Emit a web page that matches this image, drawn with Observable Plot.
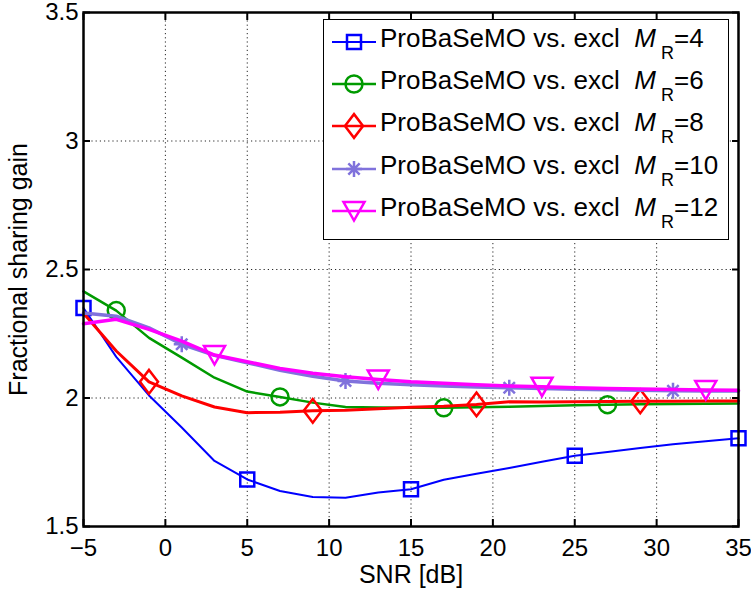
<!DOCTYPE html>
<html>
<head>
<meta charset="utf-8">
<script src="https://cdn.jsdelivr.net/npm/d3@7"></script>
<script src="https://cdn.jsdelivr.net/npm/@observablehq/plot@0.6"></script>
<style>
  html, body { margin: 0; padding: 0; background: #fff; }
  #wrap { position: relative; width: 751px; height: 590px; font-family: "Liberation Sans", Arial, sans-serif; }
  #legend { position: absolute; left: 323px; top: 19px; width: 404px; height: 219px; border: 1px solid #000; background: #fff; }
  .row { position: absolute; left: 0; height: 42px; width: 100%; }
  .row svg { position: absolute; left: 7px; top: 0; }
  .row .txt { position: absolute; left: 56px; top: -1px; font-size: 26px; white-space: pre; color: #000; line-height: 30px; }
  .row .sub { position: relative; top: 12px; font-size: 18px; margin-left: 5px; }
</style>
</head>
<body>
<div id="wrap"></div>
<script>
// ---- data ----
const snr = [-5, -3, -1, 1, 3, 5, 7, 9, 11, 13, 15, 17, 19, 21, 23, 25, 27, 29, 31, 33, 35];
const gainM4  = [2.35, 2.16, 2.01, 1.885, 1.755, 1.683, 1.638, 1.615, 1.612, 1.632, 1.645, 1.682, 1.705, 1.728, 1.752, 1.775, 1.790, 1.805, 1.820, 1.832, 1.843];
const gainM6  = [2.415, 2.34, 2.234, 2.157, 2.079, 2.025, 2.004, 1.982, 1.965, 1.963, 1.962, 1.962, 1.964, 1.966, 1.969, 1.972, 1.974, 1.976, 1.977, 1.978, 1.979];
const gainM8  = [2.33, 2.183, 2.063, 2.008, 1.965, 1.943, 1.945, 1.950, 1.952, 1.958, 1.964, 1.968, 1.975, 1.985, 1.984, 1.985, 1.986, 1.987, 1.987, 1.988, 1.988];
const gainM10 = [2.331, 2.318, 2.273, 2.209, 2.166, 2.137, 2.108, 2.085, 2.066, 2.057, 2.052, 2.047, 2.043, 2.040, 2.037, 2.034, 2.032, 2.030, 2.028, 2.027, 2.027];
const gainM12 = [2.289, 2.306, 2.267, 2.221, 2.167, 2.141, 2.115, 2.096, 2.083, 2.072, 2.063, 2.057, 2.052, 2.047, 2.044, 2.040, 2.037, 2.035, 2.033, 2.031, 2.030];
const mrValues = [4, 6, 8, 10, 12];
const legendText = "ProBaSeMO vs. excl";
const xTicks = [-5, 0, 5, 10, 15, 20, 25, 30, 35];
const yTicks = [1.5, 2, 2.5, 3, 3.5];
const xLabel = "SNR [dB]";
const yLabel = "Fractional sharing gain";

// ---- symbols ----
const rOf = (size) => Math.sqrt(size / Math.PI);
const symSquare = {draw(c, s) { const r = rOf(s); c.rect(-r, -r, 2 * r, 2 * r); }};
const symCircle = {draw(c, s) { const r = rOf(s); c.moveTo(r, 0); c.arc(0, 0, r, 0, 2 * Math.PI); }};
const symDiamond = {draw(c, s) { const r = rOf(s); c.moveTo(0, -1.25 * r); c.lineTo(0.95 * r, 0); c.lineTo(0, 1.25 * r); c.lineTo(-0.95 * r, 0); c.closePath(); }};
const symAsterisk = {draw(c, s) { const r = rOf(s); for (const a of [0, 45, 90, 135]) { const t = a * Math.PI / 180; c.moveTo(r * Math.cos(t), r * Math.sin(t)); c.lineTo(-r * Math.cos(t), -r * Math.sin(t)); } }};
const symTriDown = {draw(c, s) { const r = rOf(s); c.moveTo(-1.05 * r, -0.9 * r); c.lineTo(1.05 * r, -0.9 * r); c.lineTo(0, 0.95 * r); c.closePath(); }};

const series = [
  {values: gainM4,  color: "#0000ff", symbol: symSquare,   r: 7,   width: 2,   offset: 0},
  {values: gainM6,  color: "#009a00", symbol: symCircle,   r: 8.5, width: 2.5, offset: 1},
  {values: gainM8,  color: "#ff0000", symbol: symDiamond,  r: 9.5, width: 3,   offset: 2},
  {values: gainM10, color: "#8072dc", symbol: symAsterisk, r: 8,   width: 3.5, offset: 3},
  {values: gainM12, color: "#ff00ff", symbol: symTriDown,  r: 10,  width: 3.5, offset: 4}
];

const seriesMarks = series.flatMap((s) => {
  const rows = snr.map((x, i) => ({x, y: s.values[i], i}));
  return [
    Plot.line(rows, {x: "x", y: "y", stroke: s.color, strokeWidth: s.width}),
    Plot.dot(rows.filter((d) => d.i % 5 === s.offset), {x: "x", y: "y", stroke: s.color, fill: "none", strokeWidth: 2.5, symbol: s.symbol, r: s.r})
  ];
});

const blank = () => "";
const chart = Plot.plot({
  width: 751,
  height: 590,
  marginLeft: 83,
  marginRight: 13,
  marginTop: 12,
  marginBottom: 64,
  x: {domain: [-5, 35]},
  y: {domain: [1.5, 3.5]},
  style: {fontFamily: "'Liberation Sans', Arial, sans-serif", fontSize: "24px", color: "#000", background: "#fff", overflow: "visible"},
  marks: [
    Plot.gridX(xTicks.slice(1, -1), {stroke: "#000", strokeOpacity: 0.85, strokeDasharray: "1.2,3"}),
    Plot.gridY(yTicks.slice(1, -1), {stroke: "#000", strokeOpacity: 0.85, strokeDasharray: "1.2,3"}),
    ...seriesMarks,
    Plot.axisX(xTicks, {anchor: "bottom", tickSize: 0, tickPadding: 12, fontSize: 24, label: null}),
    Plot.axisX({anchor: "bottom", ticks: [], tickSize: 0, label: xLabel, labelAnchor: "center", labelOffset: 56, labelArrow: "none", fontSize: 25}),
    Plot.axisX(xTicks, {anchor: "bottom", tickSize: -7, tickFormat: blank, label: null, strokeWidth: 2}),
    Plot.axisX(xTicks, {anchor: "top", tickSize: -7, tickFormat: blank, label: null, strokeWidth: 2}),
    Plot.axisY(yTicks, {anchor: "left", tickSize: 0, tickPadding: 5, tickFormat: (d) => String(d), fontSize: 24, label: null}),
    Plot.axisY({anchor: "left", ticks: [], tickSize: 0, label: yLabel, labelAnchor: "center", labelOffset: 74, labelArrow: "none", fontSize: 25}),
    Plot.axisY(yTicks, {anchor: "left", tickSize: -7, tickFormat: blank, label: null, strokeWidth: 2}),
    Plot.axisY(yTicks, {anchor: "right", tickSize: -7, tickFormat: blank, label: null, strokeWidth: 2}),
    Plot.frame({stroke: "#000", strokeWidth: 2.5})
  ]
});

const wrap = document.getElementById("wrap");
wrap.appendChild(chart);

// ---- legend (inside the axes, top right) ----
const legend = document.createElement("div");
legend.id = "legend";
series.forEach((s, k) => {
  const row = document.createElement("div");
  row.className = "row";
  row.style.top = (4 + k * 42.2) + "px";
  const path = d3.symbol(s.symbol, Math.PI * s.r * s.r)();
  row.innerHTML =
    `<svg width="48" height="40" viewBox="0 0 48 40">` +
    `<line x1="1" x2="45" y1="18" y2="18" stroke="${s.color}" stroke-width="${Math.min(s.width, 2.5)}"/>` +
    `<path d="${path}" transform="translate(23,18)" fill="none" stroke="${s.color}" stroke-width="2.5"/>` +
    `</svg>` +
    `<span class="txt">${legendText}  <i>M</i><span class="sub">R</span>=${mrValues[k]}</span>`;
  legend.appendChild(row);
});
wrap.appendChild(legend);
</script>
</body>
</html>
